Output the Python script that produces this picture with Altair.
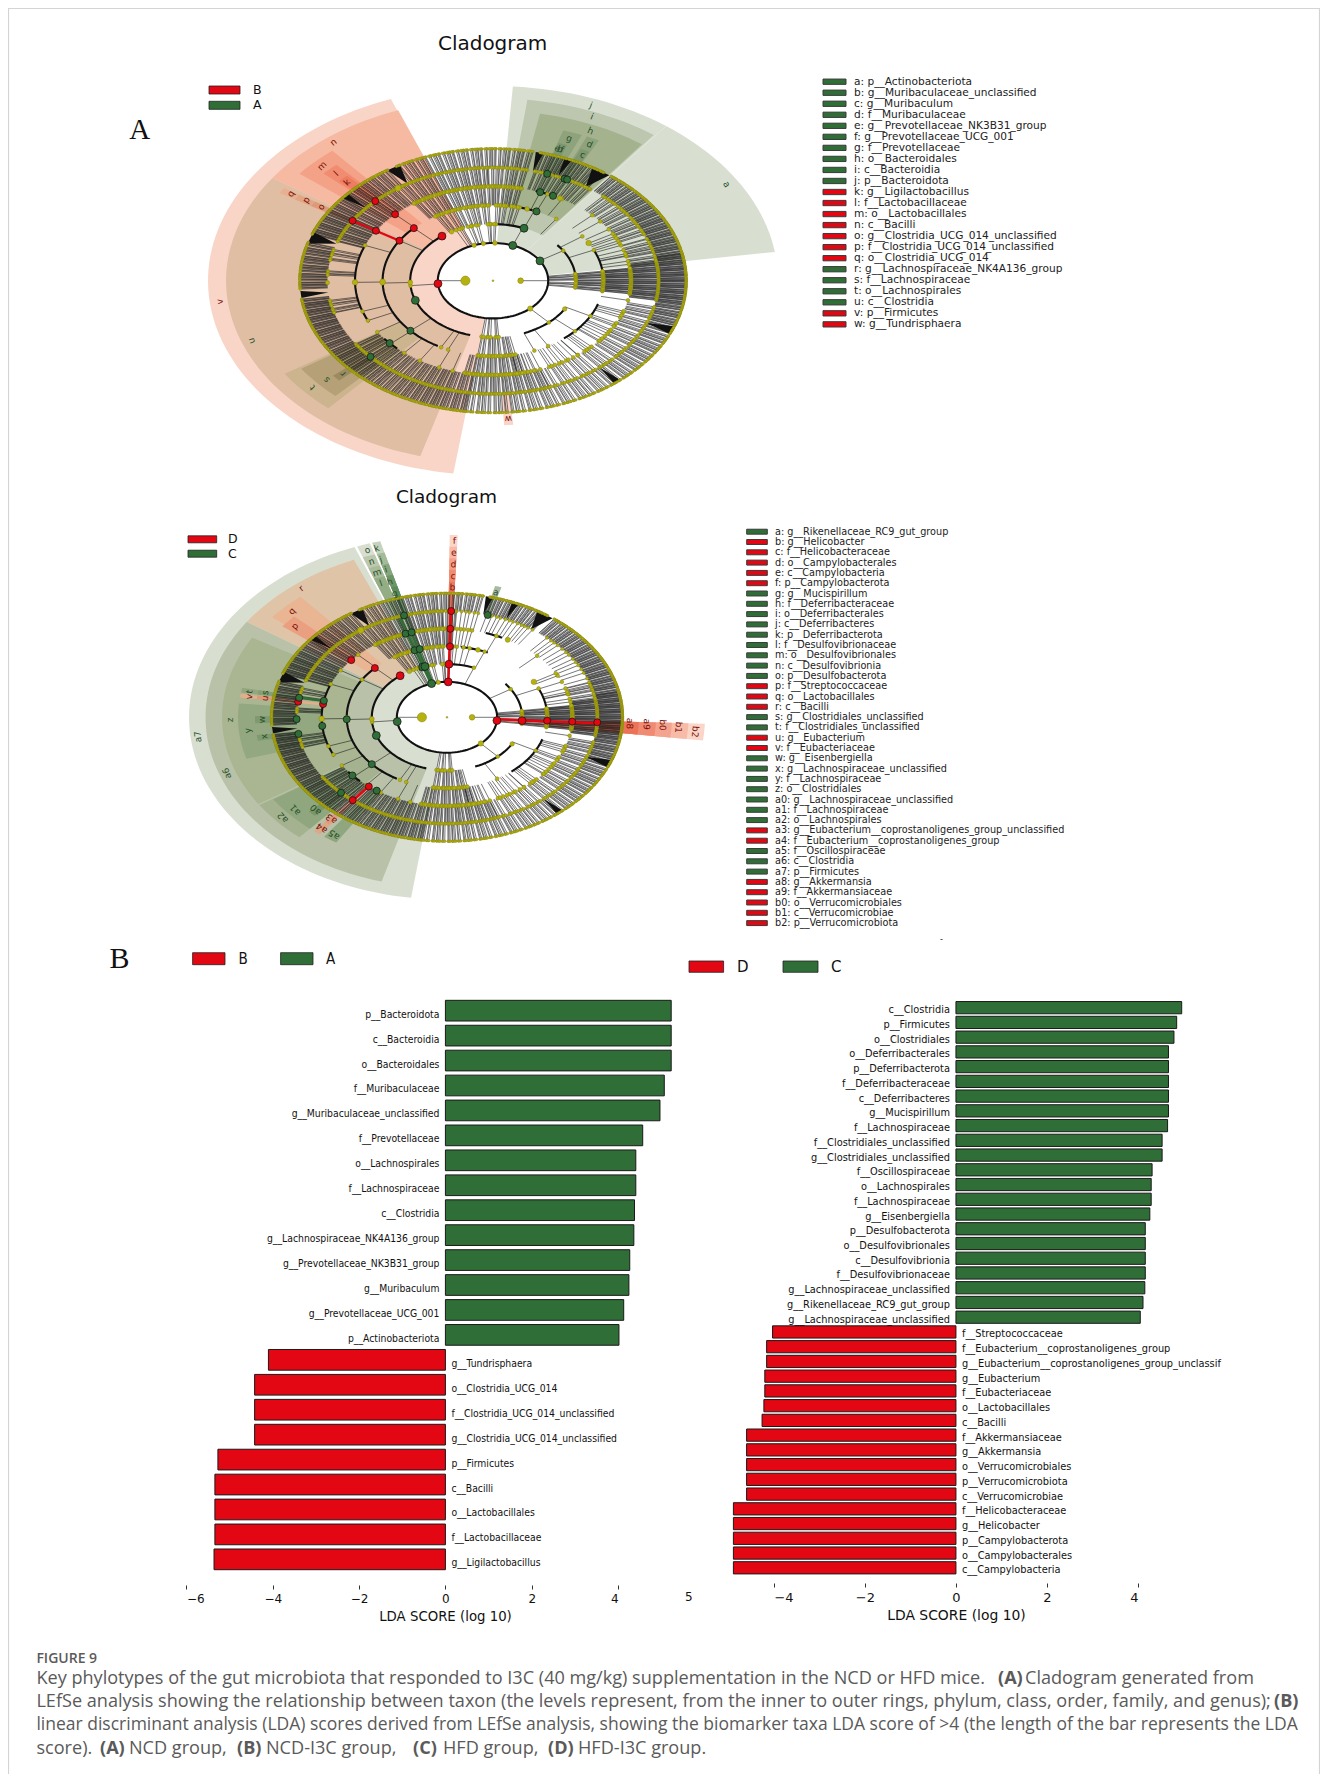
import math
import altair as alt

alt.data_transformers.disable_max_rows()

# ---------- bar data ----------
AB_GREEN = ["p__Bacteroidota","c__Bacteroidia","o__Bacteroidales","f__Muribaculaceae","g__Muribaculaceae_unclassified","f__Prevotellaceae","o__Lachnospirales","f__Lachnospiraceae","c__Clostridia","g__Lachnospiraceae_NK4A136_group","g__Prevotellaceae_NK3B31_group","g__Muribaculum","g__Prevotellaceae_UCG_001","p__Actinobacteriota"]
AB_GREEN_V = [5.23,5.23,5.23,5.07,4.97,4.57,4.41,4.41,4.38,4.365,4.27,4.25,4.13,4.02]
AB_RED = ["g__Tundrisphaera","o__Clostridia_UCG_014","f__Clostridia_UCG_014_unclassified","g__Clostridia_UCG_014_unclassified","p__Firmicutes","c__Bacilli","o__Lactobacillales","f__Lactobacillaceae","g__Ligilactobacillus"]
AB_RED_V = [-4.10,-4.42,-4.42,-4.42,-5.27,-5.34,-5.34,-5.34,-5.36]

CD_GREEN = ["c__Clostridia","p__Firmicutes","o__Clostridiales","o__Deferribacterales","p__Deferribacterota","f__Deferribacteraceae","c__Deferribacteres","g__Mucispirillum","f__Lachnospiraceae","f__Clostridiales_unclassified","g__Clostridiales_unclassified","f__Oscillospiraceae","o__Lachnospirales","f__Lachnospiraceae","g__Eisenbergiella","p__Desulfobacterota","o__Desulfovibrionales","c__Desulfovibrionia","f__Desulfovibrionaceae","g__Lachnospiraceae_unclassified","g__Rikenellaceae_RC9_gut_group","g__Lachnospiraceae_unclassified"]
CD_GREEN_V = [4.96,4.85,4.79,4.67,4.67,4.67,4.67,4.67,4.65,4.53,4.53,4.31,4.29,4.29,4.26,4.16,4.16,4.16,4.16,4.15,4.11,4.05]
CD_RED = ["f__Streptococcaceae","f__Eubacterium__coprostanoligenes_group","g__Eubacterium__coprostanoligenes_group_unclassif","g__Eubacterium","f__Eubacteriaceae","o__Lactobacillales","c__Bacilli","f__Akkermansiaceae","g__Akkermansia","o__Verrucomicrobiales","p__Verrucomicrobiota","c__Verrucomicrobiae","f__Helicobacteraceae","g__Helicobacter","p__Campylobacterota","o__Campylobacterales","c__Campylobacteria"]
CD_RED_V = [-4.03,-4.16,-4.16,-4.2,-4.2,-4.22,-4.26,-4.6,-4.6,-4.6,-4.6,-4.6,-4.89,-4.89,-4.89,-4.89,-4.89]

# ---------- legend data ----------
LEG_A = ["a: p__Actinobacteriota","b: g__Muribaculaceae_unclassified","c: g__Muribaculum","d: f__Muribaculaceae","e: g__Prevotellaceae_NK3B31_group","f: g__Prevotellaceae_UCG_001","g: f__Prevotellaceae","h: o__Bacteroidales","i: c__Bacteroidia","j: p__Bacteroidota","k: g__Ligilactobacillus","l: f__Lactobacillaceae","m: o__Lactobacillales","n: c__Bacilli","o: g__Clostridia_UCG_014_unclassified","p: f__Clostridia_UCG_014_unclassified","q: o__Clostridia_UCG_014","r: g__Lachnospiraceae_NK4A136_group","s: f__Lachnospiraceae","t: o__Lachnospirales","u: c__Clostridia","v: p__Firmicutes","w: g__Tundrisphaera"]
LEG_A_G = "GGGGGGGGGGRRRRRRRGGGGRR"
LEG_B = ["a: g__Rikenellaceae_RC9_gut_group","b: g__Helicobacter","c: f__Helicobacteraceae","d: o__Campylobacterales","e: c__Campylobacteria","f: p__Campylobacterota","g: g__Mucispirillum","h: f__Deferribacteraceae","i: o__Deferribacterales","j: c__Deferribacteres","k: p__Deferribacterota","l: f__Desulfovibrionaceae","m: o__Desulfovibrionales","n: c__Desulfovibrionia","o: p__Desulfobacterota","p: f__Streptococcaceae","q: o__Lactobacillales","r: c__Bacilli","s: g__Clostridiales_unclassified","t: f__Clostridiales_unclassified","u: g__Eubacterium","v: f__Eubacteriaceae","w: g__Eisenbergiella","x: g__Lachnospiraceae_unclassified","y: f__Lachnospiraceae","z: o__Clostridiales","a0: g__Lachnospiraceae_unclassified","a1: f__Lachnospiraceae","a2: o__Lachnospirales","a3: g__Eubacterium__coprostanoligenes_group_unclassified","a4: f__Eubacterium__coprostanoligenes_group","a5: f__Oscillospiraceae","a6: c__Clostridia","a7: p__Firmicutes","a8: g__Akkermansia","a9: f__Akkermansiaceae","b0: o__Verrucomicrobiales","b1: c__Verrucomicrobiae","b2: p__Verrucomicrobiota"]
LEG_B_G = "GRRRRRGGGGGGGGGRRRGGRRGGGGGGGRRGGGRRRRR"[:39]

RED = "#e30613"
GREEN = "#2f6e36"
OLIVE = "#b5b20f"

# ---------- cladogram A: wedges (a0, a1, r0, r1, colour) ----------
WEDGES_A = [
 (111,262,55,285,"#f9d5c8"),(8.5,52.6,55,285,"#d8dfd0"),(52.6,86,55,285,"#d8dfd0"),
 (145.7,254.2,83,267,"#e0bea4"),(110.8,145.7,83,267,"#f6b9a2"),(53,82.6,83,267,"#bdc6ae"),
 (130.2,141,110,249,"#f3a287"),(213.2,228.6,110,249,"#ccb48f"),(53.3,79.1,110,249,"#a4b28e"),
 (147,149,110,249,"#e8b090"),(147,149,138,231,"#e4a584"),(147,149,166,212,"#dd9a7a"),
 (132.7,137.2,138,231,"#f18c70"),(133.5,136.5,166,212,"#ed7c60"),
 (213.9,227,138,231,"#b5a077"),(221,223.5,166,212,"#9c8a60"),
 (67.4,72.3,138,231,"#8ea37c"),(62.7,66,138,231,"#8ea37c"),
 (69.5,72,166,212,"#7f9670"),(63,65.5,166,212,"#7f9670"),(273,275.5,166,212,"#f8d5c8"),
]
# labels (text, angle, radius, colour key)
LABELS_A = [("a",31.1,273,"G"),("j",69.1,275,"G"),("i",67.6,260,"G"),("h",66,240,"G"),("g",69.9,222,"G"),("d",64.2,222,"G"),("b",70.8,204,"G"),("e",71.6,204,"G"),("f",70.2,204,"G"),("c",64,205,"G"),
 ("n",128.2,258,"R"),("m",135.5,240,"R"),("l",135,222,"R"),("k",135.4,205,"R"),("q",147.8,239,"R"),("p",147.7,221,"R"),("o",147.8,203,"R"),
 ("v",186.4,275,"R"),("u",200,257,"G"),("t",220.9,239,"G"),("s",221.1,221,"G"),("r",222.3,203,"G"),("w",274.3,203,"R")]
# highlighted nodes (level, angle, colour key)
NODES_A = [(2,184.5,"R"),(3,128,"R"),(4,135.8,"R"),(5,135.2,"R"),(6,135.3,"R"),(4,147.9,"R"),(5,148,"R"),(6,148,"R"),
 (2,69,"G"),(3,68,"G"),(4,66.8,"G"),(5,70,"G"),(5,64.2,"G"),(6,70.9,"G"),(6,64.4,"G"),(6,63.4,"G"),(2,31.7,"G"),
 (3,200.3,"G"),(4,221.6,"G"),(5,221.5,"G"),(6,222.3,"G")]
HIGHLIGHT_A = [(4,6,148,"R")]

# ---------- cladogram B ----------
WEDGES_B = [
 (111,262,50,258,"#d9dfd0"),(107.4,110.4,50,258,"#d9dfd0"),(105,106.9,50,258,"#c5d2bc"),
 (146,254.3,75,241.5,"#b9c2a8"),(112.7,146,75,241.5,"#dfc4a8"),(107.4,110.4,75,241.5,"#bcc8ae"),(105,106.9,75,241.5,"#a3bb98"),
 (150,213,100,225,"#a9b691"),(213.5,229,100,225,"#a5b290"),(130.7,141,100,225,"#e9b593"),(107.4,110.4,100,225,"#a9bb99"),(105,106.9,100,225,"#86a67e"),
 (174.6,196.3,125,209,"#93a880"),(213.8,229,125,209,"#8fa67e"),(137,142,125,209,"#ea9f80"),(168.5,170.3,125,209,"#93a680"),(170.8,172.3,125,209,"#e2ae8c"),(230.5,232.5,125,209,"#dba888"),(234,238,125,209,"#8fa67e"),(107.4,110.4,125,209,"#93ad85"),(105,106.9,125,209,"#6d9467"),
 (179.5,182.5,150,192,"#7f9a70"),(187.5,190,150,192,"#7f9a70"),(224,226.5,150,192,"#7a9568"),(230.5,232,150,192,"#e09a80"),(168.5,170.3,150,192,"#84a072"),(170.8,172.3,150,192,"#dc9a78"),(105,106.9,150,192,"#5d8a5c"),(73.5,75.5,150,192,"#a8bba0"),
 (87.6,89.4,50,258,"#fbd5c8"),(87.6,89.4,75,241.5,"#f8b9a5"),(87.6,89.4,100,225,"#f5a08a"),(87.6,89.4,125,209,"#f08a70"),(87.6,89.4,150,192,"#ec7a60"),
 (-7.3,-2,50,258,"#fad5c8"),(-7.3,-2,75,241.5,"#f7bba8"),(-7.3,-2,100,225,"#f4a38e"),(-7.3,-2,125,209,"#f08a72"),(-7.3,-2,150,192,"#ec7258"),
]
LABELS_B = [("a7",186.3,250.5,"G"),("a6",199.8,234,"G"),("z",181,217,"G"),("y",185.4,200,"G"),("w",181,185,"G"),("x",188.5,185,"G"),("s",169.1,185,"G"),("t",169.6,201,"G"),("u",171.6,184,"R"),("v",171.6,200,"R"),
 ("a1",220.8,200.6,"G"),("a2",220.8,217,"G"),("a0",224.9,185.6,"G"),("a3",231.2,184.5,"R"),("a4",231.4,200.9,"R"),("a5",235.8,201,"G"),
 ("r",128.6,233.5,"R"),("q",135.9,216,"R"),("p",139.7,199.6,"R"),("o",108.6,249.7,"G"),("n",108.9,232.9,"G"),("m",108.9,216.4,"G"),("l",109.2,200.8,"G"),
 ("k",106.4,249,"G"),("j",106.5,233,"G"),("i",106.3,218,"G"),("h",106.6,200,"G"),("g",106.6,183,"G"),
 ("f",88.3,250,"R"),("e",88.3,233,"R"),("d",88.3,216.5,"R"),("c",88.3,200,"R"),("b",88.3,184,"R"),("a",74.5,183.6,"G"),
 ("a8",-2.7,183,"R"),("a9",-2.8,200,"R"),("b0",-2.9,216,"R"),("b1",-3.5,232,"R"),("b2",-4.7,249,"R")]
NODES_B = [(2,-5.3,"R"),(3,-3.6,"R"),(4,-2.7,"R"),(5,-2.8,"R"),(6,-2.7,"R"),
 (2,88.6,"R"),(3,88.5,"R"),(4,88.3,"R"),(5,88.5,"R"),(6,88.4,"R"),
 (3,128.5,"R"),(4,136,"R"),(5,139.8,"R"),(5,171.4,"R"),(6,171.6,"R"),(5,231.4,"R"),(6,231.2,"R"),
 (5,169.2,"G"),(6,169.4,"G"),(4,181.6,"G"),(2,187,"G"),(3,200,"G"),(5,185.6,"G"),(6,181,"G"),(6,189,"G"),
 (4,221.4,"G"),(5,221,"G"),(6,225.2,"G"),(5,235.9,"G"),
 (2,107.9,"G"),(3,108.9,"G"),(4,108.9,"G"),(5,109.3,"G"),(6,106.6,"G"),(3,107,"G"),(4,105.8,"G"),(5,106.4,"G"),(6,74.3,"G")]
HIGHLIGHT_B = [(2,6,88.5,"R"),(2,6,-3.2,"R"),(5,6,231.3,"R"),(5,6,169.3,"G"),(2,6,108.5,"G"),(2,5,106.6,"G")]

# ---------- shared tree skeleton ----------
# per ring gap: isolated radial branches and dense runs (from, to, branches per degree)
GAP_SINGLE = {
 2:[185,69,32,-47.6],
 3:[135.8,147.9,181.8,221.6,242,246,68,55,36,24,-28,-42,-60,-68],
 4:[135.2,148,158,181,199,205,213,222,230,238,247,253,66.8,70,60,44,39,33,28,22,15,-12,-20,-28,-34,-40,-46,-52,-60,-66,-72,-80],
 5:[],6:[]}
GAP_RUNS = {
 2:[(88,96,.8),(100,117,.6),(-7,7,.9),(262,276,.7)],
 3:[(76,90,1),(92,122,1.2),(-8,8,1.8),(262,282,1.3)],
 4:[(78,90,2),(90,125,2),(-8,8,3),(258,285,2),(10,30,.5),(280,345,.45)],
 5:[(-10,10,3.6),(10,22,1.6),(24,49,1.6),(54,76,2),(78,92,2.2),(92,128,2.6),(128,160,2.8),(164,170,1.5),(175,178,2),(190,197,1.6),(214,226,2.4),(226,262,2.8),(262,290,2.6),(290,348,1.5)],
 6:[(-10,12,4.4),(12,52.5,3.5),(55,76,3.3),(78,120,2.7),(123,160,3.6),(163,184,3),(188,262,3.6),(262,300,2.2),(300,338,2.4),(338,350,3.3)],
}
SPACING_CYCLE = [1,1.7,.6,1.2,2.3,.7,.9,1.5,.5,1.1]
TRIANGLES = [(56,3),(76,1.2),(67,1.2),(121,2.2),(161,2.6),(186,1.5),(338,1.8),(310,1.2),(140,1.2)]
THICK_ARCS = [(2,0,360),(3,128,254),(3,68,88),(3,4,39),(3,-68,-28),(4,136,240),(4,66,82),(4,8,24),(4,-50,-18),(5,159,206),(5,218,226),(5,64,72)]
BIG_DOTS = [(1,180,85),(1,0,32),(0,0,3),(2,100,18),(2,110,20),(2,88,22),(2,-47.6,28),(3,120,22),(3,181.8,24),(4,181,34),(4,221,18),(3,-30,20),(4,72,22),(5,181,30),(6,125,40),(6,181,18),(5,61,26),(4,30,30)]
# runs that are thinner in the second cladogram: (gap, from, to, keep every nth)
THIN_B = [(3,20,86,3),(4,20,86,3),(5,20,86,3),(3,-85,-10,2)]


def wedge_rows(wedges):
    rows = []
    for n, (a0, a1, r0, r1, c) in enumerate(wedges):
        pts = []
        steps = max(2, int((a1 - a0) / 2) + 1)
        for j in range(steps + 1):
            pts.append((a0 + (a1 - a0) * j / steps, r1))
        for j in range(steps, -1, -1):
            pts.append((a0 + (a1 - a0) * j / steps, r0))
        for i, (a, r) in enumerate(pts):
            rows.append(dict(id=f"w{n:03d}", i=i, x=r * math.cos(math.radians(a)), y=r * math.sin(math.radians(a)), c=c))
    return rows


def cladogram(cx, cy, k, step, wedges, labels, nodes, highlight, lab_size, thin=()):
    R = 320
    sx = alt.Scale(domain=[-R, R], range=[cx - R - 8, cx + R - 8], nice=False, zero=False)
    sy = alt.Scale(domain=[-R, R], range=[cy + R / k - 8, cy - R / k - 8], nice=False, zero=False)
    X = alt.X("x:Q", scale=sx, axis=None)
    Y = alt.Y("y:Q", scale=sy, axis=None)
    pol = lambda L, a: (L * step * math.cos(math.radians(a)), L * step * math.sin(math.radians(a)))

    out = []
    out.append(alt.Chart(alt.Data(values=wedge_rows(wedges))).mark_line(interpolate="linear-closed", strokeOpacity=0).encode(
        x=X, y=Y, fill=alt.Fill("c:N", scale=None, legend=None), detail="id:N", order="i:Q"))

    # branches and ring dots
    br, dots = [], []
    for gap in GAP_RUNS:
        ang = list(GAP_SINGLE[gap])
        for a0, a1, d in GAP_RUNS[gap]:
            a, j = a0, 0
            while a < a1:
                ang.append(a)
                a += SPACING_CYCLE[j % len(SPACING_CYCLE)] / d
                j += 1
        for idx, a in enumerate(ang):
            keep = True
            for g, t0, t1, nth in thin:
                if g == gap and t0 <= a <= t1 and idx % nth:
                    keep = False
            if not keep:
                continue
            x1, y1 = pol(gap, a)
            x2, y2 = pol(gap + 1, a)
            br.append(dict(x=x1, y=y1, x2=x2, y2=y2))
            dots.append(dict(x=x2, y=y2, s=14 if gap < 5 else (9 if gap == 5 else 6)))
    # centre spokes
    for a, L0, L1 in [(180, 1, 2), (0, 1, 2)]:
        x1, y1 = pol(L0, a); x2, y2 = pol(L1, a)
        br.append(dict(x=x1, y=y1, x2=x2, y2=y2))
    X2 = alt.X2("x2:Q")
    Y2 = alt.Y2("y2:Q")

    tri_rows = []
    for n, (a, w) in enumerate(TRIANGLES):
        for i, (L, da) in enumerate([(6, 0), (7, -w), (7, w)]):
            px, py = pol(L, a + da)
            tri_rows.append(dict(id=f"t{n}", i=i, x=px, y=py))
    out.append(alt.Chart(alt.Data(values=br)).mark_rule(color="#1c1c1c", strokeWidth=0.6).encode(x=X, y=Y, x2=X2, y2=Y2))
    out.append(alt.Chart(alt.Data(values=tri_rows)).mark_line(interpolate="linear-closed", strokeOpacity=0, fill="#111111").encode(
        x=X, y=Y, detail="id:N", order="i:Q"))

    arcs = []
    for n, (L, a0, a1) in enumerate(THICK_ARCS):
        m = max(4, int((a1 - a0) / 3))
        for i in range(m + 1):
            px, py = pol(L, a0 + (a1 - a0) * i / m)
            arcs.append(dict(id=f"a{n}", i=i, x=px, y=py))
    out.append(alt.Chart(alt.Data(values=arcs)).mark_line(color="#111111", strokeWidth=2.1).encode(x=X, y=Y, detail="id:N", order="i:Q"))

    hl = []
    for L0, L1, a, key in highlight:
        x1, y1 = pol(L0, a); x2, y2 = pol(L1, a)
        hl.append(dict(x=x1, y=y1, x2=x2, y2=y2, c=RED if key == "R" else GREEN))
    out.append(alt.Chart(alt.Data(values=hl)).mark_rule(strokeWidth=2.4).encode(x=X, y=Y, x2=X2, y2=Y2, color=alt.Color("c:N", scale=None, legend=None)))

    for L, a, s in BIG_DOTS:
        px, py = pol(L, a)
        dots.append(dict(x=px, y=py, s=s))
    out.append(alt.Chart(alt.Data(values=dots)).mark_circle(color=OLIVE, stroke="#858210", strokeWidth=0.5, opacity=1).encode(
        x=X, y=Y, size=alt.Size("s:Q", scale=None, legend=None)))

    nd = []
    for L, a, key in nodes:
        px, py = pol(L, a)
        nd.append(dict(x=px, y=py, c=RED if key == "R" else GREEN, s=62 if L <= 3 else 50))
    out.append(alt.Chart(alt.Data(values=nd)).mark_circle(stroke="#111111", strokeWidth=0.7, opacity=1).encode(
        x=X, y=Y, size=alt.Size("s:Q", scale=None, legend=None), color=alt.Color("c:N", scale=None, legend=None)))

    lb = []
    for t, a, r, key in labels:
        lb.append(dict(x=r * math.cos(math.radians(a)), y=r * math.sin(math.radians(a)), t=t, ang=(90 - a) % 360, c="#7a1208" if key == "R" else "#23502a"))
    out.append(alt.Chart(alt.Data(values=lb)).mark_text(fontSize=lab_size, font="DejaVu Sans").encode(
        x=X, y=Y, text="t:N", angle=alt.Angle("ang:Q", scale=None), color=alt.Color("c:N", scale=None, legend=None)))
    return out


def T(s, x, y, size, font="DejaVu Sans", color="#111111", weight="normal", align="left"):
    return alt.Chart(alt.Data(values=[{"a": 1}])).mark_text(text=s, fontSize=size, font=font, color=color, fontWeight=weight, align=align, baseline="middle").encode(
        x=alt.value(x - 8), y=alt.value(y - 8))


def BOX(x0, x1, y0, y1, c):
    return alt.Chart(alt.Data(values=[{"a": 1}])).mark_rect(color=c, stroke="#222222", strokeWidth=0.8).encode(
        x=alt.value(x0 - 8), x2=alt.value(x1 - 8), y=alt.value(y0 - 8), y2=alt.value(y1 - 8))


def side_legend(labels, keys, rx0, rx1, tx, y0, pitch, size):
    n = len(labels)
    sy = alt.Scale(type="band", domain=list(range(n)), range=[y0 - pitch / 2 - 8, y0 - pitch / 2 + n * pitch - 8], paddingInner=0.52, paddingOuter=0.26)
    rows = [dict(i=i, t=t, c=RED if keys[i] == "R" else GREEN) for i, t in enumerate(labels)]
    base = alt.Chart(alt.Data(values=rows))
    return [
        base.mark_rect(stroke="#3a3a3a", strokeWidth=1).encode(x=alt.value(rx0 - 8), x2=alt.value(rx1 - 8), y=alt.Y("i:O", scale=sy, axis=None), color=alt.Color("c:N", scale=None, legend=None)),
        base.mark_text(align="left", fontSize=size, font="DejaVu Sans", color="#222222").encode(x=alt.value(tx - 8), y=alt.Y("i:O", scale=sy, axis=None), text="t:N"),
    ]


def bars(green, green_v, red, red_v, x_neg, x_pos, dom, ticks, y_top, step, axis_y, lab_size, tick_size, title_size, title_pad, lab_font, title_x, lab_dy):
    names = green + red
    vals = green_v + red_v
    n = len(names)
    rows = [dict(i=i, t=names[i], v=vals[i], c=GREEN if vals[i] > 0 else RED) for i in range(n)]
    sx = alt.Scale(domain=dom, range=[x_neg - 8, x_pos - 8], nice=False, zero=False)
    sy = alt.Scale(type="band", domain=list(range(n)), range=[y_top - 8, y_top + n * step - 8], paddingInner=0.17, paddingOuter=0.085)
    base = alt.Chart(alt.Data(values=rows))
    bar = base.mark_bar(stroke="#1a1a1a", strokeWidth=1, opacity=1).encode(
        x=alt.X("v:Q", scale=sx, stack=None, axis=alt.Axis(
            orient="bottom", values=ticks, format="d", title="LDA SCORE (log 10)", domain=False, grid=False, tickSize=4, tickColor="#333333",
            labelFontSize=tick_size, labelFont="DejaVu Sans", labelColor="#111111", labelPadding=4,
            titleFontSize=title_size, titleFont="DejaVu Sans", titleFontWeight="normal", titleColor="#111111", titlePadding=title_pad,
            titleX=title_x - 8, offset=axis_y - (8 + 1766))),
        x2=alt.X2(datum=0),
        y=alt.Y("i:O", scale=sy, axis=None),
        color=alt.Color("c:N", scale=None, legend=None))
    common = dict(fontSize=lab_size, font=lab_font, color="#111111", dy=lab_dy)
    left = alt.Chart(alt.Data(values=[r for r in rows if r["v"] > 0])).mark_text(align="right", dx=-6, **common).encode(
        x=alt.X(datum=0, scale=sx), y=alt.Y("i:O", scale=sy, axis=None), text="t:N")
    right = alt.Chart(alt.Data(values=[r for r in rows if r["v"] < 0])).mark_text(align="left", dx=6, **common).encode(
        x=alt.X(datum=0, scale=sx), y=alt.Y("i:O", scale=sy, axis=None), text="t:N")
    return [bar, left, right]


layers = []
# frame
for pos in [dict(x=alt.value(0.5), y=alt.value(0), y2=alt.value(1766)), dict(x=alt.value(1311.5), y=alt.value(0), y2=alt.value(1766)), dict(y=alt.value(0.5), x=alt.value(0), x2=alt.value(1312))]:
    layers.append(alt.Chart(alt.Data(values=[{"a": 1}])).mark_rule(color="#d4d4d4", strokeWidth=1.2).encode(**pos))

layers += cladogram(493, 280.7, 1.464, 27.6, WEDGES_A, LABELS_A, NODES_A, HIGHLIGHT_A, 9)
layers += cladogram(447, 717.3, 1.415, 25.07, WEDGES_B, LABELS_B, NODES_B, HIGHLIGHT_B, 9, THIN_B)

layers += [T("Cladogram", 492.6, 44, 20, align="center"), T("Cladogram", 446.5, 496.7, 18.5, align="center")]
layers += [BOX(209, 240, 86, 94, RED), BOX(209, 240, 101.3, 109.3, GREEN), T("B", 253, 90, 12.5), T("A", 253, 105.3, 12.5)]
layers += [BOX(188, 216.7, 535.8, 542.8, RED), BOX(188, 216.7, 550.2, 557.2, GREEN), T("D", 228, 539.3, 12.5), T("C", 228, 553.7, 12.5)]
layers += [T("A", 139.8, 130, 29, font="Liberation Serif", align="center"), T("B", 119.6, 959, 30, font="Liberation Serif", align="center")]

layers += side_legend(LEG_A, LEG_A_G, 823, 846, 854, 81.7, 11.03, 10.6)
layers += side_legend(LEG_B, LEG_B_G, 746.7, 767.3, 775, 531.7, 10.3, 9.7)
layers.append(T("-", 940, 940, 8))

layers += bars(AB_GREEN, AB_GREEN_V, AB_RED, AB_RED_V, 186.4, 618.1, [-6, 4], [-6, -4, -2, 0, 2, 4], 998.2, 24.94, 1585, 10.3, 12, 13.3, 5, "DejaVu Sans Condensed", 445, 4)
layers += bars(CD_GREEN, CD_GREEN_V, CD_RED, CD_RED_V, 773.9, 1138, [-4, 4], [-4, -2, 0, 2, 4], 1000.3, 14.74, 1583, 9.8, 13, 13.9, 4, "DejaVu Sans", 956, 2.5)
layers.append(T("5", 685, 1597, 12))

layers += [BOX(192.6, 225, 952.7, 964.7, RED), T("B", 238.5, 959, 15, font="DejaVu Sans Condensed"), BOX(280.6, 313, 952.7, 964.7, GREEN), T("A", 326, 959, 15, font="DejaVu Sans Condensed")]
layers += [BOX(689, 723.6, 961, 972.3, RED), T("D", 737, 966.5, 15), BOX(783, 818, 961, 972.3, GREEN), T("C", 831, 966.5, 15)]

CAP = "#5a5a5a"
CF = "Open Sans"
C1 = 18.1
C3 = 17.5
layers += [T("FIGURE 9", 36.4, 1659, 14, font=CF, color=CAP, weight=600),
 T("Key phylotypes of the gut microbiota that responded to I3C (40 mg/kg) supplementation in the NCD or HFD mice.", 36.4, 1678.7, C1, font=CF, color=CAP),
 T("(A)", 998, 1678.7, C1, font=CF, color=CAP, weight="bold"),
 T("Cladogram generated from", 1025, 1678.7, C1, font=CF, color=CAP),
 T("LEfSe analysis showing the relationship between taxon (the levels represent, from the inner to outer rings, phylum, class, order, family, and genus);", 36.4, 1702, C1, font=CF, color=CAP),
 T("(B)", 1274, 1702, C1, font=CF, color=CAP, weight="bold"),
 T("linear discriminant analysis (LDA) scores derived from LEfSe analysis, showing the biomarker taxa LDA score of >4 (the length of the bar represents the LDA", 36.4, 1725, C3, font=CF, color=CAP),
 T("score).", 36.4, 1749, C1, font=CF, color=CAP), T("(A)", 100, 1749, C1, font=CF, color=CAP, weight="bold"),
 T("NCD group,", 129, 1749, C1, font=CF, color=CAP), T("(B)", 237, 1749, C1, font=CF, color=CAP, weight="bold"),
 T("NCD-I3C group,", 266, 1749, C1, font=CF, color=CAP), T("(C)", 413, 1749, C1, font=CF, color=CAP, weight="bold"),
 T("HFD group,", 443, 1749, C1, font=CF, color=CAP), T("(D)", 548, 1749, C1, font=CF, color=CAP, weight="bold"),
 T("HFD-I3C group.", 578, 1749, C1, font=CF, color=CAP)]

chart = alt.layer(*layers).resolve_scale(x="independent", y="independent").properties(
    width=1312, height=1766, padding=0, autosize=alt.AutoSizeParams(type="none")
).configure_view(stroke=None)

chart.save("out.html", embed_options={"renderer": "svg", "actions": False})
